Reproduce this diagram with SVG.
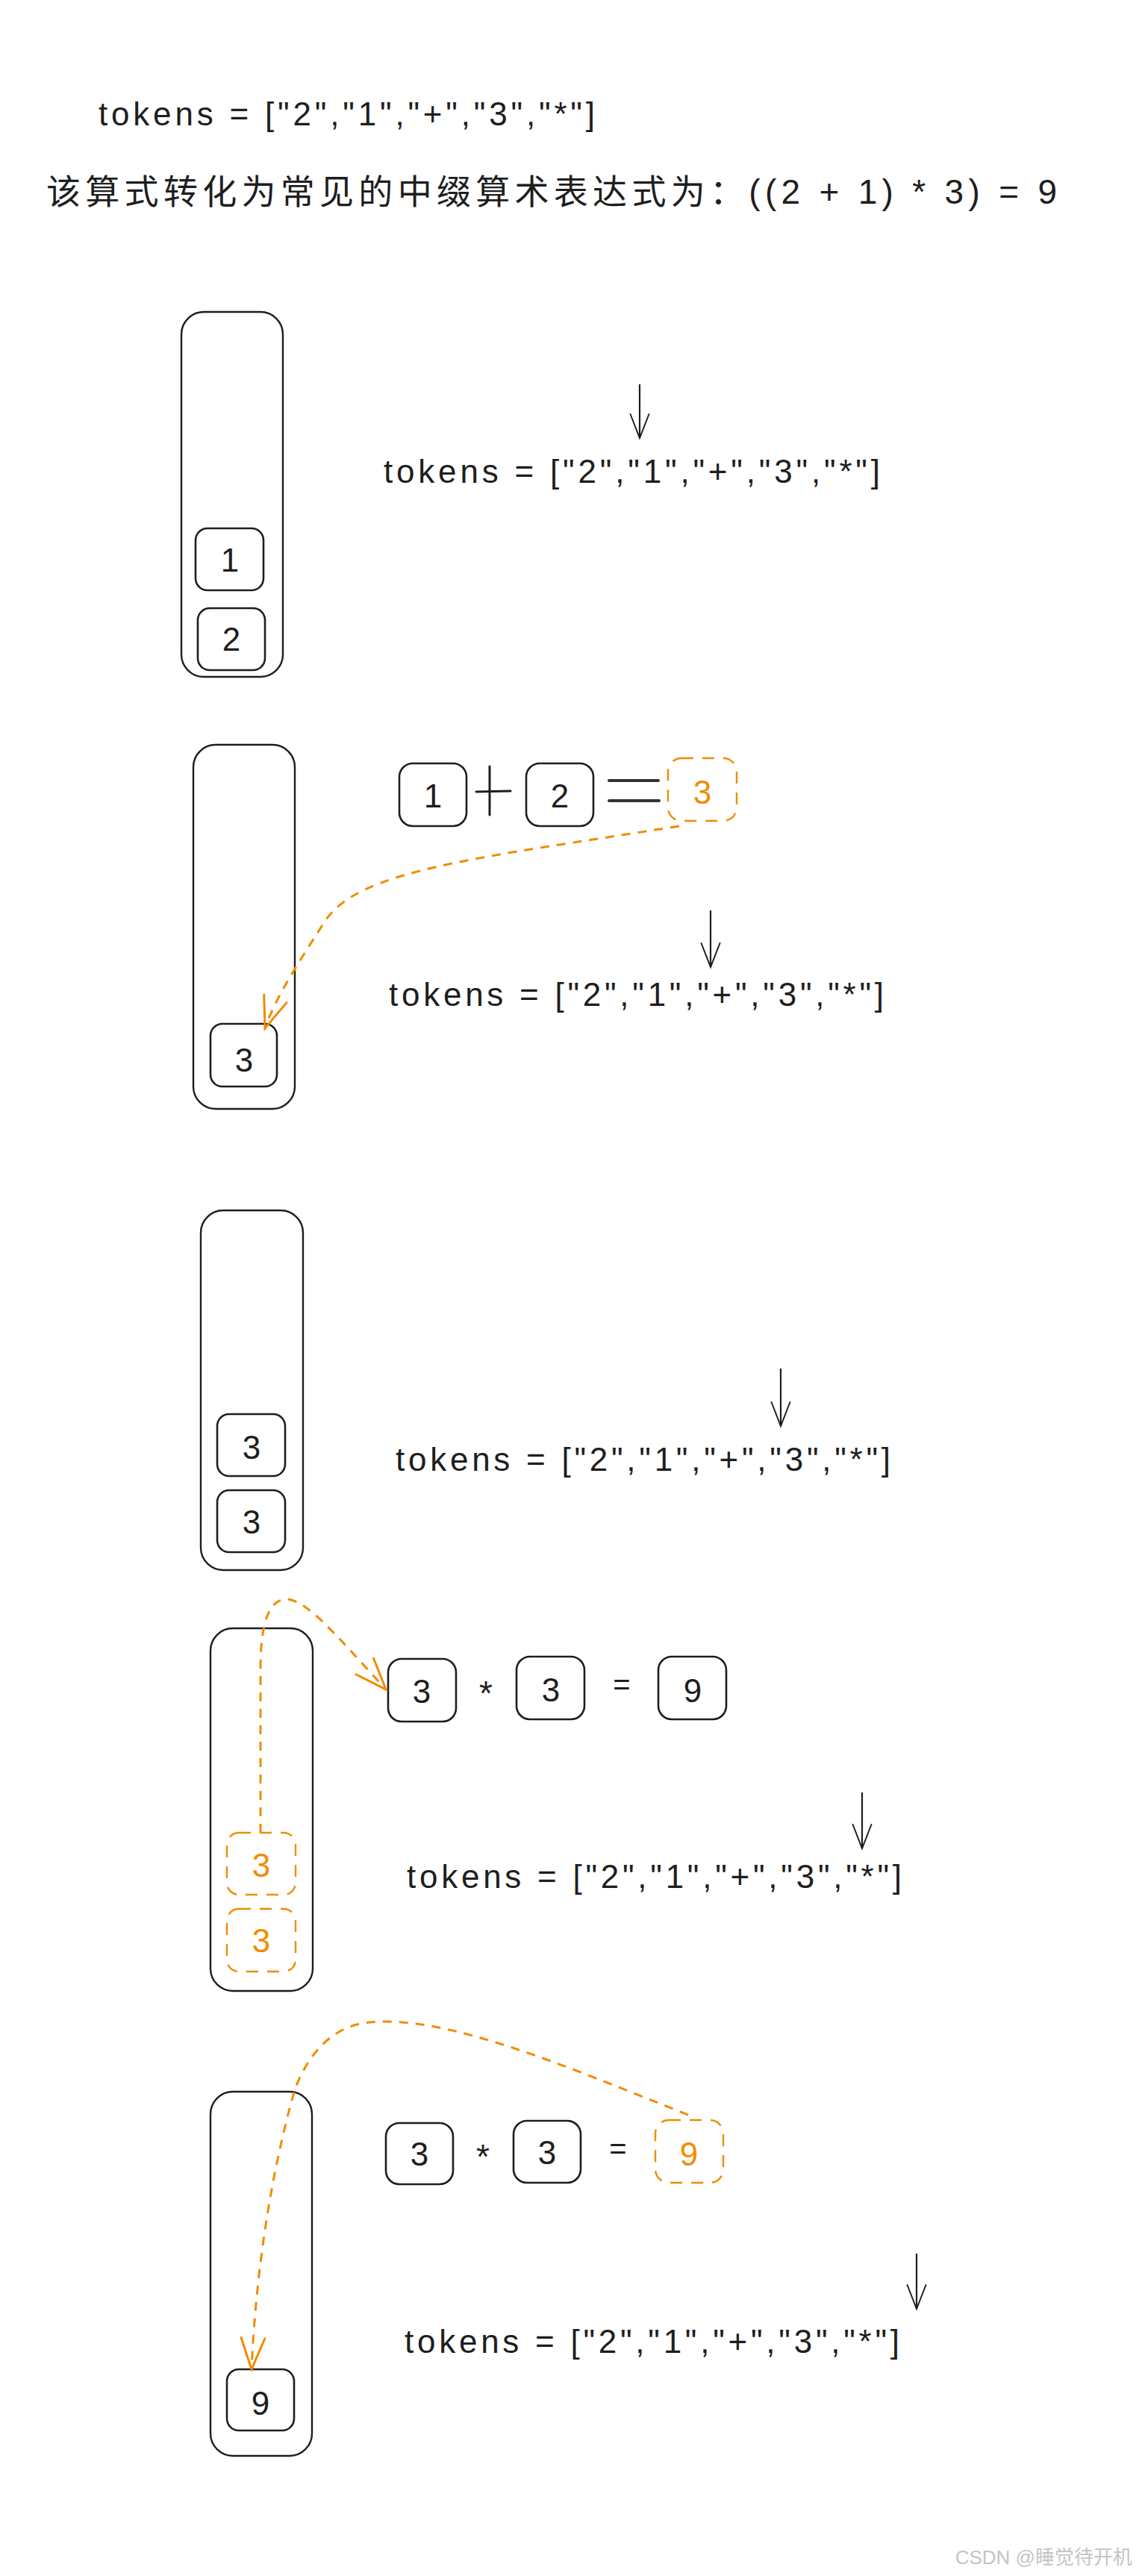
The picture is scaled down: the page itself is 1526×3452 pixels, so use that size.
<svg xmlns="http://www.w3.org/2000/svg" width="1526" height="3452" viewBox="0 0 1526 3452">
<style>
  .bg{fill:#ffffff}
  .stack{fill:none;stroke:#1e1e1e;stroke-width:2.4}
  .box{fill:none;stroke:#1e1e1e;stroke-width:2.6}
  .dbox{fill:none;stroke:#f08c00;stroke-width:2.4;stroke-dasharray:16 12}
  .t{font-family:"Liberation Sans",Arial,sans-serif;fill:#1e1e1e}
  .cjk{font-family:"Liberation Sans","Noto Sans CJK SC",sans-serif;fill:#1e1e1e}
  .num{font-family:"Liberation Sans",Arial,sans-serif;font-size:44px;fill:#1e1e1e;text-anchor:middle}
  .onum{font-family:"Liberation Sans",Arial,sans-serif;font-size:44px;fill:#f08c00;text-anchor:middle}
  .tok{font-family:"Liberation Sans",Arial,sans-serif;font-size:44px;fill:#1e1e1e}
  .arr{fill:none;stroke:#1e1e1e;stroke-width:2.2;marker-end:url(#ah)}
  .oarr{fill:none;stroke:#f08c00;stroke-width:3;stroke-dasharray:12 10;marker-end:url(#oh)}
  .op{stroke:#1e1e1e;stroke-width:3;stroke-linecap:round}
  .eq{stroke:#333333;stroke-width:4;stroke-linecap:round}
  .wm{font-family:"Liberation Sans","Noto Sans CJK SC",sans-serif;font-size:26px;fill:#c4c4c4;text-anchor:end}
</style>
<defs>
  <marker id="ah" markerUnits="userSpaceOnUse" markerWidth="80" markerHeight="80" viewBox="-45 -40 90 80" refX="0" refY="0" orient="auto">
    <path d="M -36 -14 L 0 0 L -36 14" fill="none" stroke="#1e1e1e" stroke-width="2.2" stroke-linecap="round"/>
  </marker>
  <marker id="oh" markerUnits="userSpaceOnUse" markerWidth="100" markerHeight="100" viewBox="-50 -50 100 100" refX="0" refY="0" orient="auto">
    <path d="M -42 -16 L 0 0 L -42 16" fill="none" stroke="#f08c00" stroke-width="3" stroke-linecap="round"/>
  </marker>
</defs>
<rect class="bg" x="0" y="0" width="1526" height="3452"/>

<g id="header">
  <text class="tok" x="132" y="168" textLength="665" lengthAdjust="spacing">tokens = ["2","1","+","3","*"]</text>
  <text class="cjk" x="62" y="273" font-size="46" textLength="1354" lengthAdjust="spacing">该算式转化为常见的中缀算术表达式为：((2 + 1) * 3) = 9</text>
</g>

<!-- Step 1 -->
<g id="stack1">
  <rect class="stack" x="243" y="418" width="136" height="489" rx="30"/>
</g>
<g id="s1-item1">
  <rect class="box" x="262" y="708" width="91" height="83" rx="16"/>
  <text class="num" x="308" y="766">1</text>
</g>
<g id="s1-item2">
  <rect class="box" x="265" y="815" width="90" height="83" rx="16"/>
  <text class="num" x="310" y="872">2</text>
</g>
<g id="s1-tokens">
  <text class="tok" x="514" y="647" textLength="665" lengthAdjust="spacing">tokens = ["2","1","+","3","*"]</text>
</g>

<!-- Step 2 -->
<g id="stack2">
  <rect class="stack" x="259" y="998" width="136" height="488" rx="30"/>
</g>
<g id="s2-item1">
  <rect class="box" x="282" y="1372" width="89" height="84" rx="16"/>
  <text class="num" x="327" y="1436">3</text>
</g>
<g id="s2-eq-a">
  <rect class="box" x="535" y="1023" width="90" height="84" rx="18"/>
  <text class="num" x="580" y="1082">1</text>
</g>
<g id="s2-plus">
  <line class="op" x1="656" y1="1027" x2="656" y2="1092"/>
  <line class="op" x1="638" y1="1061" x2="684" y2="1060"/>
</g>
<g id="s2-eq-b">
  <rect class="box" x="705" y="1023" width="90" height="84" rx="18"/>
  <text class="num" x="750" y="1082">2</text>
</g>
<g id="s2-equals">
  <line class="eq" x1="816" y1="1046" x2="882" y2="1046"/>
  <line class="eq" x1="816" y1="1073" x2="883" y2="1073"/>
</g>
<g id="s2-result">
  <rect class="dbox" x="895" y="1016" width="92" height="84" rx="18"/>
  <text class="onum" x="941" y="1077">3</text>
</g>
<g id="s2-tokens">
  <text class="tok" x="521" y="1348" textLength="663" lengthAdjust="spacing">tokens = ["2","1","+","3","*"]</text>
</g>

<!-- Step 3 -->
<g id="stack3">
  <rect class="stack" x="269" y="1622" width="137" height="482" rx="30"/>
</g>
<g id="s3-item1">
  <rect class="box" x="291" y="1895" width="91" height="83" rx="16"/>
  <text class="num" x="337" y="1955">3</text>
</g>
<g id="s3-item2">
  <rect class="box" x="291" y="1997" width="91" height="83" rx="16"/>
  <text class="num" x="337" y="2055">3</text>
</g>
<g id="s3-tokens">
  <text class="tok" x="530" y="1971" textLength="663" lengthAdjust="spacing">tokens = ["2","1","+","3","*"]</text>
</g>

<!-- Step 4 -->
<g id="stack4">
  <rect class="stack" x="282" y="2182" width="137" height="486" rx="30"/>
</g>
<g id="s4-item1">
  <rect class="dbox" x="304" y="2456" width="92" height="83" rx="16"/>
  <text class="onum" x="350" y="2515">3</text>
</g>
<g id="s4-item2">
  <rect class="dbox" x="304" y="2558" width="92" height="84" rx="16"/>
  <text class="onum" x="350" y="2616">3</text>
</g>
<g id="s4-eq-a">
  <rect class="box" x="520" y="2223" width="91" height="84" rx="18"/>
  <text class="num" x="565" y="2282">3</text>
</g>
<g id="s4-times">
  <text class="t" x="651" y="2285" font-size="46" text-anchor="middle">*</text>
</g>
<g id="s4-eq-b">
  <rect class="box" x="692" y="2220" width="91" height="84" rx="18"/>
  <text class="num" x="738" y="2280">3</text>
</g>
<g id="s4-equals">
  <text class="t" x="833" y="2271" font-size="40" text-anchor="middle">=</text>
</g>
<g id="s4-result">
  <rect class="box" x="882" y="2220" width="91" height="84" rx="18"/>
  <text class="num" x="928" y="2281">9</text>
</g>
<g id="s4-tokens">
  <text class="tok" x="545" y="2530" textLength="663" lengthAdjust="spacing">tokens = ["2","1","+","3","*"]</text>
</g>

<!-- Step 5 -->
<g id="stack5">
  <rect class="stack" x="282" y="2803" width="136" height="488" rx="30"/>
</g>
<g id="s5-item1">
  <rect class="box" x="304" y="3175" width="90" height="82" rx="16"/>
  <text class="num" x="349" y="3236">9</text>
</g>
<g id="s5-eq-a">
  <rect class="box" x="517" y="2845" width="90" height="82" rx="18"/>
  <text class="num" x="562" y="2902">3</text>
</g>
<g id="s5-times">
  <text class="t" x="647" y="2906" font-size="46" text-anchor="middle">*</text>
</g>
<g id="s5-eq-b">
  <rect class="box" x="688" y="2842" width="90" height="83" rx="18"/>
  <text class="num" x="733" y="2900">3</text>
</g>
<g id="s5-equals">
  <text class="t" x="828" y="2893" font-size="40" text-anchor="middle">=</text>
</g>
<g id="s5-result">
  <rect class="dbox" x="878" y="2841" width="91" height="84" rx="18"/>
  <text class="onum" x="923" y="2902">9</text>
</g>
<g id="s5-tokens">
  <text class="tok" x="542" y="3153" textLength="663" lengthAdjust="spacing">tokens = ["2","1","+","3","*"]</text>
</g>

<g id="connectors">
  <path class="arr" d="M 857 515 L 857 587"/>
  <path class="arr" d="M 952 1220 L 952 1296"/>
  <path class="arr" d="M 1046 1834 L 1046 1911"/>
  <path class="arr" d="M 1155 2402 L 1155 2477"/>
  <path class="arr" d="M 1228 3020 L 1228 3094"/>
  <path class="oarr" d="M 910 1107 C 640 1150, 480 1165, 435 1235 C 400 1290, 370 1335, 355 1378"/>
  <path class="oarr" d="M 349 2456 L 349 2230 C 350 2170, 362 2142, 385 2143 C 412 2146, 445 2185, 517 2264"/>
  <path class="oarr" d="M 922 2834 C 760 2770, 600 2700, 495 2710 C 440 2715, 410 2760, 395 2800 C 375 2870, 345 3000, 337 3175"/>
</g>

<text class="wm" x="1517" y="3436">CSDN @睡觉待开机</text>
</svg>
